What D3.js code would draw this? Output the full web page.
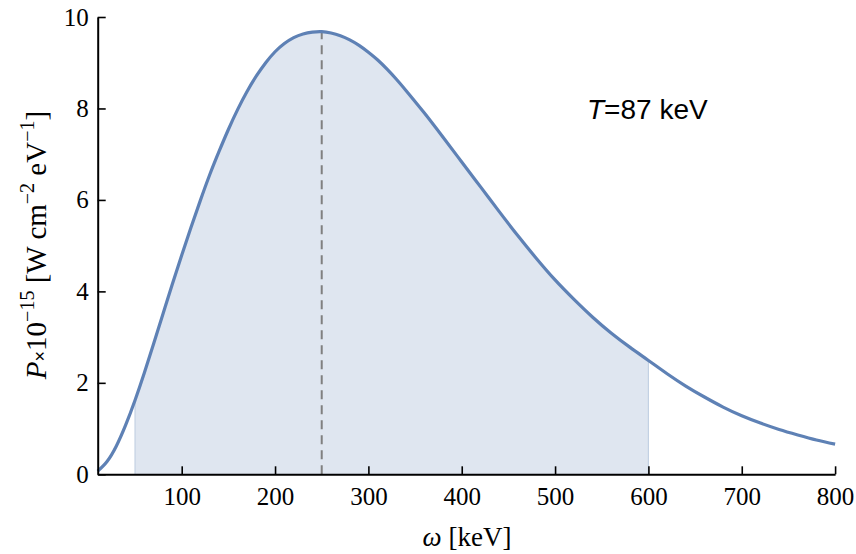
<!DOCTYPE html>
<html>
<head>
<meta charset="utf-8">
<script src="https://cdn.jsdelivr.net/npm/d3@7/dist/d3.min.js"></script>
<style>
  body { margin: 0; background: #ffffff; }
  text { fill: #000; }
</style>
</head>
<body>
<div id="chart"></div>
<script>
// photon energy (keV) and spectral power
var omega = [10, 20, 30, 40, 50, 60, 70, 80, 90, 100, 110, 120, 130, 140, 150, 160, 170, 180, 190, 200,
             210, 220, 230, 240, 250, 260, 270, 280, 290, 300, 310, 320, 330, 340, 360, 380, 400, 420, 440, 460, 480, 500,
             520, 540, 560, 580, 600, 620, 640, 660, 680, 700, 720, 740, 760, 780, 800];
var power = [0.07, 0.28, 0.62, 1.08, 1.62, 2.22, 2.86, 3.51, 4.16, 4.79, 5.40, 5.99, 6.55, 7.06, 7.54, 7.98, 8.37, 8.71, 9.00, 9.24,
             9.42, 9.55, 9.63, 9.67, 9.68, 9.65, 9.59, 9.50, 9.38, 9.23, 9.06, 8.86, 8.64, 8.40, 7.90, 7.37, 6.83, 6.29, 5.75, 5.22, 4.72, 4.25,
             3.83, 3.44, 3.09, 2.78, 2.49, 2.20, 1.93, 1.69, 1.47, 1.28, 1.12, 0.98, 0.86, 0.75, 0.66];

var xTicks = [100, 200, 300, 400, 500, 600, 700, 800];
var yTicks = [0, 2, 4, 6, 8, 10];
var peakOmega = 250;
var band = [50, 600];
var tempText = "=87 keV";

var width = 856, height = 554;
var blue = "#5e81b5";

var x = d3.scaleLinear().domain([10, 800]).range([97.7, 835.1]);
var y = d3.scaleLinear().domain([0, 10]).range([474.3, 17]);

var svg = d3.select("#chart").append("svg")
  .attr("width", width)
  .attr("height", height);

var pts = omega.map(function(d, i) { return {w: d, p: power[i]}; });

var curveLine = d3.line()
  .curve(d3.curveNatural)
  .x(function(d) { return x(d.w); })
  .y(function(d) { return y(d.p); });

// shaded band, clipped to the energy window
svg.append("clipPath")
  .attr("id", "bandclip")
  .append("rect")
  .attr("x", x(band[0]))
  .attr("y", 0)
  .attr("width", x(band[1]) - x(band[0]))
  .attr("height", height);

svg.append("path")
  .datum(pts)
  .attr("clip-path", "url(#bandclip)")
  .attr("fill", "#dfe6f0")
  .attr("d", d3.area()
    .curve(d3.curveNatural)
    .x(function(d) { return x(d.w); })
    .y0(y(0))
    .y1(function(d) { return y(d.p); }));

// band edges
band.forEach(function(b) {
  var p = power[omega.indexOf(b)];
  svg.append("line")
    .attr("x1", x(b)).attr("x2", x(b))
    .attr("y1", y(0)).attr("y2", y(p))
    .attr("stroke", "#c3d1e3")
    .attr("stroke-width", 1.2);
});

// peak marker
svg.append("line")
  .attr("x1", x(peakOmega)).attr("x2", x(peakOmega))
  .attr("y1", y(0)).attr("y2", y(power[omega.indexOf(peakOmega)]))
  .attr("stroke", "#808080")
  .attr("stroke-width", 2)
  .attr("stroke-dasharray", "9,6");

// spectrum
svg.append("path")
  .datum(pts)
  .attr("fill", "none")
  .attr("stroke", blue)
  .attr("stroke-width", 3.2)
  .attr("d", curveLine);

// axes, ticks pointing inward
var xMinor = d3.range(20, 801, 20).filter(function(d) { return xTicks.indexOf(d) < 0; });
var yMinor = d3.range(0, 10.01, 0.5).filter(function(d) { return d % 2 !== 0; });

var gx = svg.append("g").attr("transform", "translate(0," + y(0) + ")");
gx.call(d3.axisBottom(x).tickValues(xMinor).tickSize(-4.5).tickSizeOuter(0).tickFormat(""));
gx.call(d3.axisBottom(x).tickValues(xTicks).tickSize(-8).tickSizeOuter(0).tickPadding(10));

var gy = svg.append("g").attr("transform", "translate(" + x(10) + ",0)");
gy.call(d3.axisLeft(y).tickValues(yMinor).tickSize(-4.5).tickSizeOuter(0).tickFormat(""));
gy.call(d3.axisLeft(y).tickValues(yTicks).tickSize(-8).tickSizeOuter(0).tickPadding(9));

svg.selectAll(".domain").attr("stroke", "#000").attr("stroke-width", 2);
svg.selectAll(".tick line").attr("stroke", "#000").attr("stroke-width", 1.6);
svg.selectAll(".tick text")
  .attr("font-family", "Liberation Serif")
  .attr("font-size", 25)
  .attr("fill", "#000");
gx.selectAll(".tick text").attr("dy", "0.82em");

// axis titles
var xt = svg.append("text")
  .attr("x", 467)
  .attr("y", 546)
  .attr("text-anchor", "middle")
  .attr("font-family", "Liberation Serif")
  .attr("font-size", 27);
xt.append("tspan").attr("font-style", "italic").text("ω");
xt.append("tspan").text(" [keV]");

var yt = svg.append("text")
  .attr("transform", "translate(46,245) rotate(-90)")
  .attr("text-anchor", "middle")
  .attr("font-family", "Liberation Serif")
  .attr("font-size", 29);
yt.append("tspan").attr("font-style", "italic").text("P");
yt.append("tspan").attr("font-family", "Liberation Sans").attr("font-size", 18).text("×");
yt.append("tspan").text("10");
yt.append("tspan").attr("dy", -12).attr("font-size", 20).text("−15");
yt.append("tspan").attr("dy", 12).text(" [W cm");
yt.append("tspan").attr("dy", -12).attr("font-size", 20).text("−2");
yt.append("tspan").attr("dy", 12).text(" eV");
yt.append("tspan").attr("dy", -12).attr("font-size", 20).text("−1");
yt.append("tspan").attr("dy", 12).text("]");

// temperature note
var tt = svg.append("text")
  .attr("x", 587)
  .attr("y", 119)
  .attr("font-family", "Liberation Sans")
  .attr("font-size", 28);
tt.append("tspan").attr("font-style", "italic").text("T");
tt.append("tspan").text(tempText);
</script>
</body>
</html>
